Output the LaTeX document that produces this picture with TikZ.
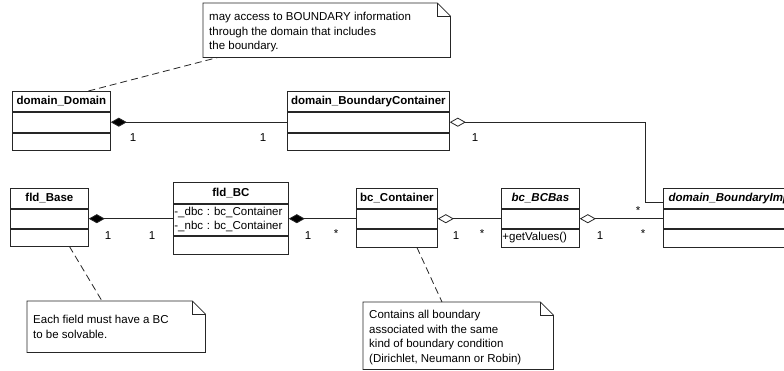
\documentclass[tikz,border=0pt]{standalone}
\usepackage{fontspec}
\setmainfont{Liberation Sans}
\usetikzlibrary{arrows.meta}
\begin{document}
\frenchspacing
\begin{tikzpicture}[x=1pt,y=-1pt,
  every node/.style={font=\fontsize{11.5}{14.5}\selectfont},
  ln/.style={line width=0.8pt, draw=black!85},
  hdr/.style={draw=black!85, line width=0.8pt, rectangle, anchor=north west, inner sep=0pt, font=\fontsize{11.5}{14.5}\selectfont\bfseries},
  hdri/.style={hdr, font=\fontsize{11.5}{14.5}\selectfont\bfseries\itshape},
  comp/.style={draw=black!85, line width=0.8pt, rectangle, anchor=north west, inner sep=0pt},
  notebg/.style={rectangle, anchor=north west, inner sep=0pt},
  notetxt/.style={anchor=north west, inner sep=0pt, align=left},
  mult/.style={inner sep=0pt},
  filled/.style={{Diamond[length=16pt,width=9pt,fill=black]}-},
  hollow/.style={{Diamond[length=16pt,width=9pt,open,fill=white]}-},
  dsh/.style={ln, dash pattern=on 7pt off 4pt}
]
\clip (0,0) rectangle (784,370);
\fill[white] (0,0) rectangle (784,370);

% domain_Domain
\node[hdr, minimum width=98pt, minimum height=20pt] (dd) at (12,91) {domain\_Domain};
\node[comp, minimum width=98pt, minimum height=20pt] (dda) at (dd.south west) {};
\node[comp, minimum width=98pt, minimum height=17pt] (ddo) at (dda.south west) {};

% domain_BoundaryContainer
\node[hdr, minimum width=162pt, minimum height=20pt] (dbc) at (287,91) {domain\_BoundaryContainer};
\node[comp, minimum width=162pt, minimum height=20pt] (dbca) at (dbc.south west) {};
\node[comp, minimum width=162pt, minimum height=17pt] (dbco) at (dbca.south west) {};

% fld_Base
\node[hdr, minimum width=78pt, minimum height=20pt] (fb) at (10,188) {fld\_Base};
\node[comp, minimum width=78pt, minimum height=19pt] (fba) at (fb.south west) {};
\node[comp, minimum width=78pt, minimum height=17pt] (fbo) at (fba.south west) {};

% fld_BC
\node[hdr, minimum width=115pt, minimum height=21pt] (fbc) at (173,182) {fld\_BC};
\node[comp, minimum width=115pt, minimum height=31pt, text width=113pt, inner xsep=1pt, align=left] (fbca) at (fbc.south west) {-\_dbc : bc\_Container\\-\_nbc : bc\_Container};
\node[comp, minimum width=115pt, minimum height=18pt] (fbco) at (fbca.south west) {};

% bc_Container
\node[hdr, minimum width=81pt, minimum height=20pt] (bc) at (356,188) {bc\_Container};
\node[comp, minimum width=81pt, minimum height=19pt] (bca) at (bc.south west) {};
\node[comp, minimum width=81pt, minimum height=18pt] (bco) at (bca.south west) {};

% bc_BCBas
\node[hdri, minimum width=78pt, minimum height=20pt] (bb) at (501,188) {bc\_BCBas};
\node[comp, minimum width=78pt, minimum height=19pt] (bba) at (bb.south west) {};
\node[comp, minimum width=78pt, minimum height=18pt, text width=76pt, inner xsep=1pt, align=left] (bbo) at (bba.south west) {+getValues()};

% domain_BoundaryImpl
\node[hdri, minimum width=135pt, minimum height=20pt] (dbi) at (663,188) {domain\_BoundaryImpl};
\node[comp, minimum width=135pt, minimum height=19pt] (dbia) at (dbi.south west) {};
\node[comp, minimum width=135pt, minimum height=18pt] (dbio) at (dbia.south west) {};

% connectors
\draw[ln, filled] (dda.east) -- (dbca.west);
\draw[ln, hollow] (dbca.east) -| ([xshift=-18pt,yshift=-4pt]dbi.west) -- ([yshift=-4pt]dbi.west);
\draw[ln, filled] (fba.east) -- (fba.east -| fbca.west);
\draw[ln, filled] (bca.west -| fbca.east) -- (bca.west);
\draw[ln, hollow] (bca.east) -- (bba.west);
\draw[ln, hollow] (bba.east) -- (dbia.west);

% multiplicities
\node[mult] (m1) at (133,138) {1};
\node[mult] (m2) at (263,138) {1};
\node[mult] (m3) at (475,138) {1};
\node[mult] (m4) at (108,236) {1};
\node[mult] (m5) at (152,236) {1};
\node[mult] (m6) at (308,236) {1};
\node[mult] (m7) at (336,234) {*};
\node[mult] (m8) at (456,236) {1};
\node[mult] (m9) at (482,234) {*};
\node[mult] (m10) at (600,236) {1};
\node[mult] (m11) at (638,211) {*};
\node[mult] (m12) at (643,234) {*};

% notes
\newcommand\notepath[1]{%
  \draw[ln, fill=white] (#1.south west) -- (#1.north west) -- ([xshift=-13pt]#1.north east) -- ([yshift=-13pt]#1.north east) -- (#1.south east) -- cycle;
  \draw[ln] ([xshift=-13pt]#1.north east) |- ([yshift=-13pt]#1.north east);}

\node[notebg, minimum width=247pt, minimum height=54pt] (n1) at (203,3) {};
\notepath{n1}
\node[notetxt] (n1t) at (209,12) {may access to BOUNDARY information\\through the domain that includes\\the boundary.};

\node[notebg, minimum width=178pt, minimum height=51pt] (n2) at (27,301) {};
\notepath{n2}
\node[notetxt] (n2t) at (33,315) {Each field must have a BC\\to be solvable.};

\node[notebg, minimum width=190pt, minimum height=67pt] (n3) at (363,302) {};
\notepath{n3}
\node[notetxt] (n3t) at (369,310) {Contains all boundary\\associated with the same\\kind of boundary condition\\(Dirichlet, Neumann or Robin)};

% note links
\draw[dsh] ([xshift=27pt]dd.north) -- ([xshift=15pt]n1.south west);
\draw[dsh] ([xshift=20pt]fbo.south) -- ([xshift=75pt]n2.north west);
\draw[dsh] ([xshift=20pt]bco.south) -- ([xshift=79pt]n3.north west);
\end{tikzpicture}
\end{document}
